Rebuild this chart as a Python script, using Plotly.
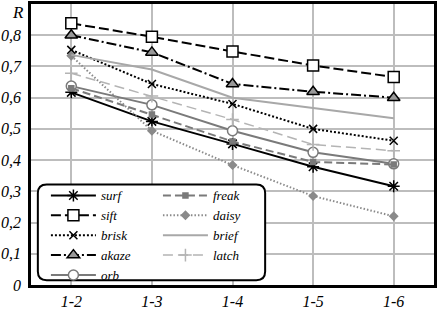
import plotly.graph_objects as go

categories = ["1-2", "1-3", "1-4", "1-5", "1-6"]
surf = [0.617, 0.524, 0.452, 0.379, 0.316]
sift = [0.838, 0.795, 0.748, 0.703, 0.666]
brisk = [0.753, 0.644, 0.580, 0.500, 0.462]
akaze = [0.800, 0.745, 0.644, 0.619, 0.600]
orb = [0.637, 0.577, 0.494, 0.425, 0.388]
freak = [0.630, 0.546, 0.460, 0.394, 0.386]
daisy = [0.734, 0.494, 0.384, 0.285, 0.220]
brief = [0.737, 0.690, 0.600, 0.567, 0.534]
latch = [0.678, 0.605, 0.530, 0.450, 0.430]

y_tick_vals = [0, 0.1, 0.2, 0.3, 0.4, 0.5, 0.6, 0.7, 0.8]
y_tick_text = ["0", "0,1", "0,2", "0,3", "0,4", "0,5", "0,6", "0,7", "0,8"]

FONT = 'Liberation Serif, "Times New Roman", serif'

series = [
    # name, values, color, dash, width, mode, marker symbol, size, fill, line color, legend
    ("surf", surf, "#000000", "solid", 2, "lines+markers", "asterisk-open", 10, "#000000", "#000000", "legend"),
    ("sift", sift, "#000000", "10px,4px", 2, "lines+markers", "square", 11, "#ffffff", "#000000", "legend"),
    ("brisk", brisk, "#000000", "2px,2px", 2, "lines+markers", "x-thin-open", 8, "#000000", "#000000", "legend"),
    ("akaze", akaze, "#000000", "10px,3px,2px,3px", 2, "lines+markers", "triangle-up", 11, "#999999", "#000000", "legend"),
    ("orb", orb, "#7a7a7a", "solid", 2, "lines+markers", "circle", 10, "#ffffff", "#7a7a7a", "legend"),
    ("freak", freak, "#7a7a7a", "8px,4px", 2, "lines+markers", "square", 5, "#7a7a7a", "#7a7a7a", "legend2"),
    ("daisy", daisy, "#8a8a8a", "1.5px,2px", 2, "lines+markers", "diamond", 6, "#8a8a8a", "#8a8a8a", "legend2"),
    ("brief", brief, "#a8a8a8", "solid", 2, "lines", "circle", 1, "#a8a8a8", "#a8a8a8", "legend2"),
    ("latch", latch, "#b4b4b4", "10px,5px", 1.5, "lines+markers", "cross-thin-open", 9, "#b4b4b4", "#b4b4b4", "legend2"),
]

fig = go.Figure()
for name, vals, color, dash, width, mode, sym, msize, mfill, mline, leg in series:
    fig.add_trace(go.Scatter(
        x=categories, y=vals, name=name, mode=mode,
        line=dict(color=color, dash=dash, width=width),
        marker=dict(symbol=sym, size=msize, color=mfill,
                    line=dict(color=mline, width=1.5)),
        legend=leg,
    ))

legend_common = dict(
    bgcolor="rgba(0,0,0,0)", borderwidth=0,
    font=dict(family=FONT, size=13, color="#000000", style="italic"),
    itemwidth=45, tracegroupgap=0,
    xanchor="left", yanchor="top",
)

# rounded legend frame (paper coordinates)
bx0, bx1, by0, by1 = 0.017, 0.581, 0.017, 0.358
rx, ry = 0.022, 0.031
frame_path = (
    f"M {bx0 + rx},{by0} L {bx1 - rx},{by0} Q {bx1},{by0} {bx1},{by0 + ry} "
    f"L {bx1},{by1 - ry} Q {bx1},{by1} {bx1 - rx},{by1} "
    f"L {bx0 + rx},{by1} Q {bx0},{by1} {bx0},{by1 - ry} "
    f"L {bx0},{by0 + ry} Q {bx0},{by0} {bx0 + rx},{by0} Z"
)

fig.update_layout(
    width=438, height=311,
    margin=dict(l=30, r=2, t=1, b=22),
    paper_bgcolor="#ffffff", plot_bgcolor="#ffffff",
    font=dict(family=FONT),
    showlegend=True,
    legend=dict(x=0.037, y=0.372, **legend_common),
    legend2=dict(x=0.315, y=0.372, **legend_common),
    xaxis=dict(
        type="category", range=[-0.5, 4.5],
        showgrid=True, gridcolor="#bdbdbd", gridwidth=1.5,
        showline=True, linecolor="#000000", linewidth=2.5, mirror=True,
        ticks="",
        tickfont=dict(family=FONT, size=16, color="#000000", style="italic"),
        zeroline=False,
    ),
    yaxis=dict(
        range=[0, 0.9], tickvals=y_tick_vals, ticktext=y_tick_text,
        showgrid=True, gridcolor="#bdbdbd", gridwidth=1.5,
        showline=True, linecolor="#000000", linewidth=2.5, mirror=True,
        ticks="", ticklabelstandoff=4,
        tickfont=dict(family=FONT, size=16, color="#000000", style="italic"),
        zeroline=False,
    ),
    shapes=[dict(
        type="path", xref="paper", yref="paper", path=frame_path,
        line=dict(color="#000000", width=2), fillcolor="#ffffff",
        layer="above",
    )],
    annotations=[dict(
        text="R", xref="paper", yref="paper", x=-0.012, y=0.97,
        xanchor="right", yanchor="middle", showarrow=False,
        font=dict(family=FONT, size=17, color="#000000", style="italic"),
    )],
)

fig.write_html("out.html", config={"displayModeBar": False},
               post_script="document.body.style.margin='0';")
